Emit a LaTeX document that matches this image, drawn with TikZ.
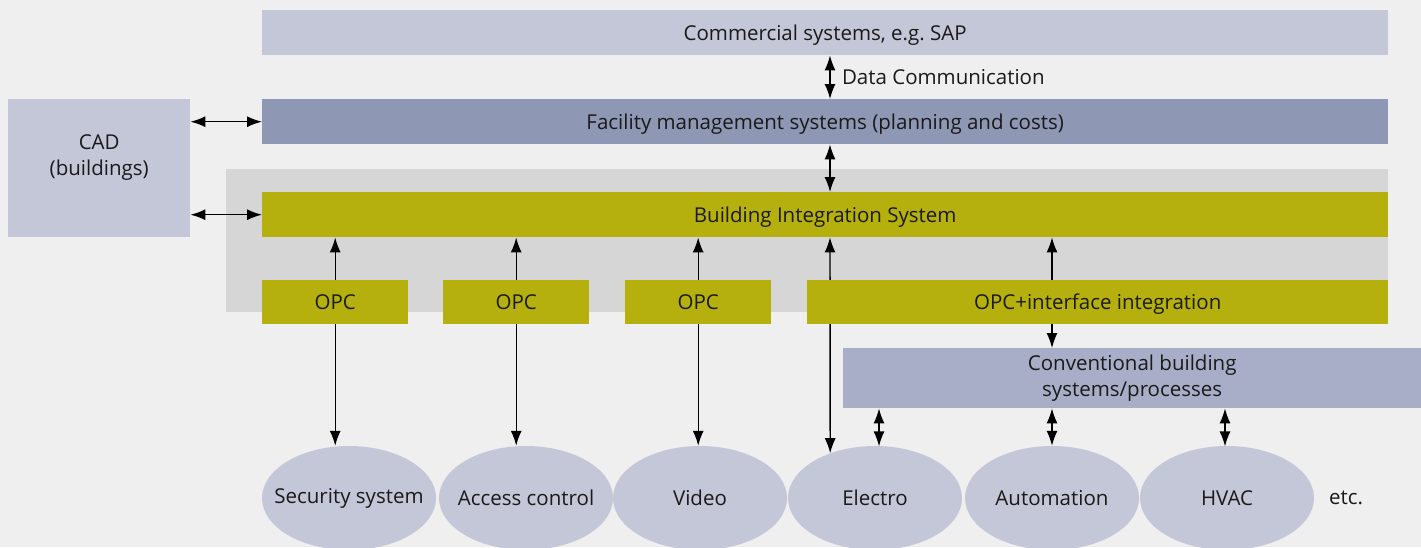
\documentclass[tikz,border=0pt]{standalone}
\usepackage{fontspec}
\setmainfont{Open Sans}
\usetikzlibrary{arrows.meta,shapes.geometric,positioning}

\definecolor{paper}{HTML}{EFEFEF}
\definecolor{panel}{HTML}{D6D6D6}
\definecolor{lilac}{HTML}{C4C7D8}
\definecolor{slate}{HTML}{8E97B3}
\definecolor{steel}{HTML}{A9AEC8}
\definecolor{olive}{HTML}{B5B00D}
\definecolor{ink}{HTML}{1A1A1A}

\tikzset{
  tip/.tip={Latex[length=15pt,width=11pt]},
  bar/.style={rectangle, inner sep=0pt, anchor=north west, text=ink,
    font=\fontsize{20.5}{26}\selectfont},
  onerow/.style={text height=15pt, text depth=0pt},
  blob/.style={ellipse, inner sep=0pt, fill=lilac, minimum width=174,
    minimum height=104, text=ink, font=\fontsize{20.5}{26}\selectfont},
  both/.style={tip-tip, line width=1.4pt, draw=black},
  up/.style={-tip, line width=1.4pt, draw=black}
}

\begin{document}
\begin{tikzpicture}[x=1pt,y=-1pt]
	\fill[paper] (0,0) rectangle (1421,547);
	\useasboundingbox (0,0) rectangle (1421,547);
	\fill[panel] (226,169) rectangle (1388,312);

	% upper layers
	\node[bar, onerow, fill=lilac, minimum width=1126, minimum height=45] (commercial) at (262,10) {Commercial systems, e.g.\ SAP};
	\node[bar, onerow, fill=slate, minimum width=1126, minimum height=45] (facility) at (262,99) {Facility management systems (planning and costs)};
	\node[bar, fill=lilac, minimum width=182, minimum height=138, align=center] (cad) at (8,99) {CAD\\(buildings)\\\mbox{}};
	\node[bar, onerow, fill=olive, minimum width=1126, minimum height=45] (bis) at (262,192) {Building Integration System};

	% OPC servers
	\node[bar, onerow, fill=olive, minimum width=146, minimum height=44] (opcA) at (262,280) {OPC};
	\node[bar, onerow, fill=olive, minimum width=146, minimum height=44] (opcB) at (443,280) {OPC};
	\node[bar, onerow, fill=olive, minimum width=146, minimum height=44] (opcC) at (625,280) {OPC};
	\node[bar, fill=steel, minimum width=578, minimum height=60, align=center] (conv) at (843,348) {Conventional building\\systems/processes};

	% subsystems
	\node[blob] (security) at (349,498) {\makebox[0pt]{Security system}};
	\node[blob] (access) at (526,498) {\makebox[0pt]{Access control}};
	\node[blob] (video) at (700,498) {\makebox[0pt]{Video}};
	\node[blob] (electro) at (875,498) {\makebox[0pt]{Electro}};
	\node[blob] (automation) at (1052,498) {\makebox[0pt]{Automation}};
	\node[blob] (hvac) at (1227,498) {\makebox[0pt]{HVAC}};
	\node[text=ink, font=\fontsize{20.5}{26}\selectfont] (etc) at (1346,498) {etc.};

	\coordinate (dc) at (830,0);
	\coordinate (ai) at (1052,0);

	% links running behind the interface box
	\draw[both] (bis.south -| dc) -- (electro.135);
	\draw[both] (bis.south -| ai) -- (conv.north -| ai);
	\node[bar, onerow, fill=olive, minimum width=581, minimum height=44] (opcD) at (807,280) {OPC+interface integration};

	\draw[both] (commercial.south -| dc) -- node[right=8pt, onerow, text=ink, font=\fontsize{20.5}{26}\selectfont] (datacom) {Data Communication} (facility.north -| dc);
	\draw[both] (facility.south -| dc) -- (bis.north -| dc);
	\draw[both] (cad.east |- facility) -- (facility.west);
	\draw[both] (cad.east |- bis) -- (bis.west);

	\draw[up] (opcA.north) -- (opcA.north |- bis.south);
	\draw[up] (opcB.north) -- (opcB.north |- bis.south);
	\draw[up] (opcC.north) -- (opcC.north |- bis.south);
	\draw[up] (opcA.south) -- (opcA.south |- security.north);
	\draw[up] (opcB.south) -- (opcB.south |- access.north);
	\draw[up] (opcC.south) -- (opcC.south |- video.north);

	\draw[both] (conv.south -| electro.north) ++(4,0) -- ++(0,38);
	\draw[both] (conv.south -| automation.north) -- (automation.north);
	\draw[both] (conv.south -| hvac.north) ++(-2,0) -- ++(0,38);
\end{tikzpicture}
\end{document}
